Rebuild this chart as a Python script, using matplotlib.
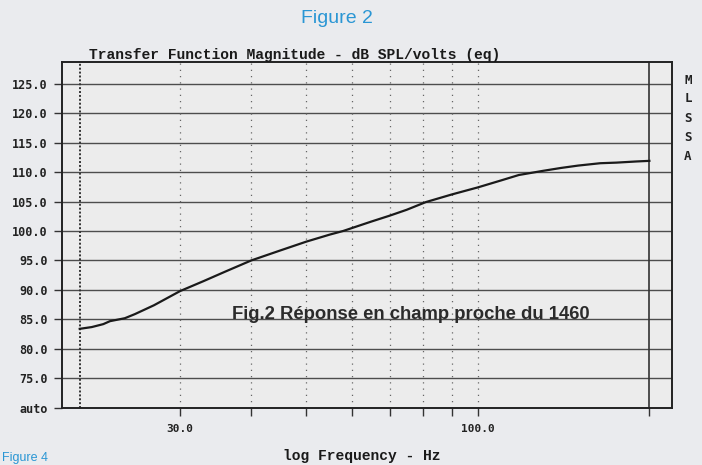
import matplotlib.pyplot as plt
import numpy as np

# near-field response
freq = [20, 21, 22, 22.6, 24, 25, 27, 30, 33, 36, 40, 45, 50, 55, 58, 65,
        70, 75, 81, 90, 100, 110, 118, 130, 140, 150, 164, 175, 190, 200]
spl = [83.4, 83.7, 84.2, 84.7, 85.2, 85.9, 87.4, 89.8, 91.5, 93.1, 95.0, 96.7,
       98.2, 99.4, 100.0, 101.6, 102.6, 103.6, 104.9, 106.2, 107.4, 108.6,
       109.5, 110.2, 110.7, 111.1, 111.5, 111.6, 111.8, 111.9]

y_ticks = [70, 75, 80, 85, 90, 95, 100, 105, 110, 115, 120, 125]
y_labels = ['auto', '75.0', '80.0', '85.0', '90.0', '95.0', '100.0', '105.0',
            '110.0', '115.0', '120.0', '125.0']
x_grid = [30, 40, 50, 60, 70, 80, 90, 100]
x_ticks = [30, 40, 50, 60, 70, 80, 90, 100, 200]
x_labels = ['30.0', '', '', '', '', '', '', '100.0', '']

paper = '#eaebee'
mono = 'Liberation Mono'

fig = plt.figure(figsize=(7.02, 4.65), dpi=100, facecolor=paper)
ax = fig.add_axes([0.088, 0.123, 0.869, 0.744])
ax.set_facecolor('#ececec')

ax.set_xscale('log')
ax.set_xlim(18.6, 219)
ax.set_ylim(70, 128.7)

# grid
for y in y_ticks[1:]:
    ax.axhline(y, color='#4d4d4d', lw=1.0, zorder=1)
for x in x_grid:
    ax.axvline(x, color='#666666', lw=0.9, ls=(0, (1, 4)), zorder=1)
ax.axvline(20, color='#333333', lw=1.4, ls=(0, (1, 1)), zorder=1)
ax.axvline(200, color='#333333', lw=1.2, zorder=2)

ax.plot(freq, spl, color='#1a1a1a', lw=1.6, zorder=3)

ax.set_yticks(y_ticks)
ax.set_yticklabels(y_labels, fontfamily='DejaVu Sans Mono', fontweight='bold',
                   fontsize=8.5, color='#222222')
ax.set_xticks(x_ticks)
ax.set_xticklabels(x_labels, fontfamily='DejaVu Sans Mono', fontweight='bold',
                   fontsize=8, color='#222222')
ax.xaxis.set_minor_locator(plt.NullLocator())
ax.tick_params(axis='y', length=6, width=1, pad=4, color='#333333')
ax.tick_params(axis='x', length=6, width=1, pad=6, color='#333333')

for s in ax.spines.values():
    s.set_color('#222222')
    s.set_linewidth(1.4)

fig.text(0.419, 0.882, 'Transfer Function Magnitude - dB SPL/volts (eq)',
         ha='center', va='center', fontfamily=mono, fontweight='bold',
         fontsize=10.5, color='#1a1a1a')
fig.text(0.516, 0.02, 'log Frequency - Hz', ha='center', va='center',
         fontfamily=mono, fontweight='bold', fontsize=10.5, color='#1a1a1a')
fig.text(0.48, 0.961, 'Figure 2', ha='center', va='center',
         fontfamily='Liberation Sans', fontsize=14, color='#2a96d4')
fig.text(0.585, 0.323, 'Fig.2 Réponse en champ proche du 1460', ha='center',
         va='center', fontfamily='Liberation Sans', fontweight='bold',
         fontsize=13.3, color='#2b2b2b')
fig.text(0.003, 0.014, 'Figure 4', ha='left', va='center',
         fontfamily='Liberation Sans', fontsize=9, color='#2a96d4')

for i, ch in enumerate('MLSSA'):
    fig.text(0.98, 1 - (80 + i * 19) / 465, ch, ha='center', va='center',
             fontfamily='DejaVu Sans Mono', fontweight='bold', fontsize=9,
             color='#222222')

fig.savefig('out.png', dpi=100, facecolor=paper)
